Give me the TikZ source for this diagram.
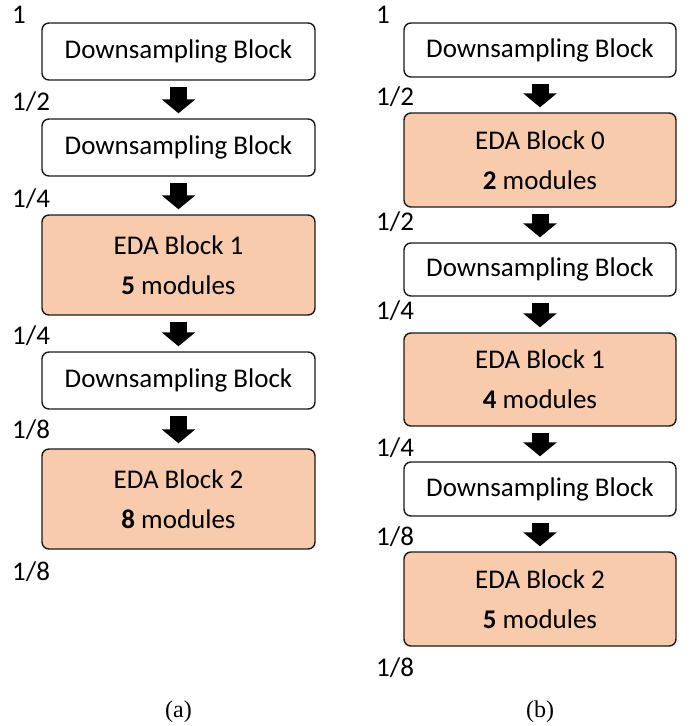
\documentclass[tikz,border=0pt]{standalone}
\usepackage{fontspec}
\setmainfont{Carlito}
\newfontfamily\capfont{Liberation Serif}
\usetikzlibrary{arrows.meta,calc}
\definecolor{edafill}{HTML}{F8CBAD}
\definecolor{edgecol}{HTML}{1A1A1A}
\tikzset{
  blk/.style={draw=edgecol, line width=1.4pt, rounded corners=7pt, align=center,
    inner sep=0pt, font=\fontsize{27}{40}\selectfont},
  dsblk/.style={blk, fill=white},
  edablk/.style={blk, fill=edafill},
  lbl/.style={anchor=base west, inner sep=0pt, font=\fontsize{27}{32}\selectfont},
  captext/.style={inner sep=0pt, font=\capfont\fontsize{24}{28}\selectfont},
  fat/.style={line width=17pt, draw=black, -{Triangle[length=14pt 0 0, width=33pt 0 0]},
    shorten <=6pt, shorten >=5pt}
}
\begin{document}
\begin{tikzpicture}[x=1pt,y=-1pt]
\useasboundingbox (0,0) rectangle (693,726);
% left column
\node[dsblk, minimum width=273pt, minimum height=57pt] (a1) at (178.5,51.5) {Downsampling Block};
\node[dsblk, minimum width=273pt, minimum height=57pt] (a2) at (178.5,147.5) {Downsampling Block};
\node[edablk, minimum width=273pt, minimum height=100pt] (a3) at (178.5,265) {EDA Block 1\\\textbf{5} modules};
\node[dsblk, minimum width=273pt, minimum height=57pt] (a4) at (178.5,380.5) {Downsampling Block};
\node[edablk, minimum width=273pt, minimum height=100pt] (a5) at (178.5,499) {EDA Block 2\\\textbf{8} modules};
\draw[fat] (a1.south) -- (a2.north);
\draw[fat] (a2.south) -- (a3.north);
\draw[fat] (a3.south) -- (a4.north);
\draw[fat] (a4.south) -- (a5.north);
\node[lbl] (la0) at (12,23) {1};
\node[lbl] (la1) at (12,110) {1/2};
\node[lbl] (la2) at (12,207) {1/4};
\node[lbl] (la3) at (12,344) {1/4};
\node[lbl] (la4) at (12,438) {1/8};
\node[lbl] (la5) at (12,580) {1/8};
% right column
\node[dsblk, minimum width=272pt, minimum height=54pt] (b1) at (540,50) {Downsampling Block};
\node[edablk, minimum width=272pt, minimum height=94pt] (b2) at (540,160) {EDA Block 0\\\textbf{2} modules};
\node[dsblk, minimum width=272pt, minimum height=53pt] (b3) at (540,269.5) {Downsampling Block};
\node[edablk, minimum width=272pt, minimum height=93pt] (b4) at (540,379.5) {EDA Block 1\\\textbf{4} modules};
\node[dsblk, minimum width=272pt, minimum height=54pt] (b5) at (540,489) {Downsampling Block};
\node[edablk, minimum width=272pt, minimum height=94pt] (b6) at (540,599) {EDA Block 2\\\textbf{5} modules};
\draw[fat] (b1.south) -- (b2.north);
\draw[fat] (b2.south) -- (b3.north);
\draw[fat] (b3.south) -- (b4.north);
\draw[fat] (b4.south) -- (b5.north);
\draw[fat] (b5.south) -- (b6.north);
\node[lbl] (lb0) at (376,23) {1};
\node[lbl] (lb1) at (376,105) {1/2};
\node[lbl] (lb2) at (376,230) {1/2};
\node[lbl] (lb3) at (376,319) {1/4};
\node[lbl] (lb4) at (376,456) {1/4};
\node[lbl] (lb5) at (376,545) {1/8};
\node[lbl] (lb6) at (376,676) {1/8};
% captions
\node[captext] (ca) at (178.5,712) {(a)};
\node[captext] (cb) at (540,712) {(b)};
\end{tikzpicture}
\end{document}
